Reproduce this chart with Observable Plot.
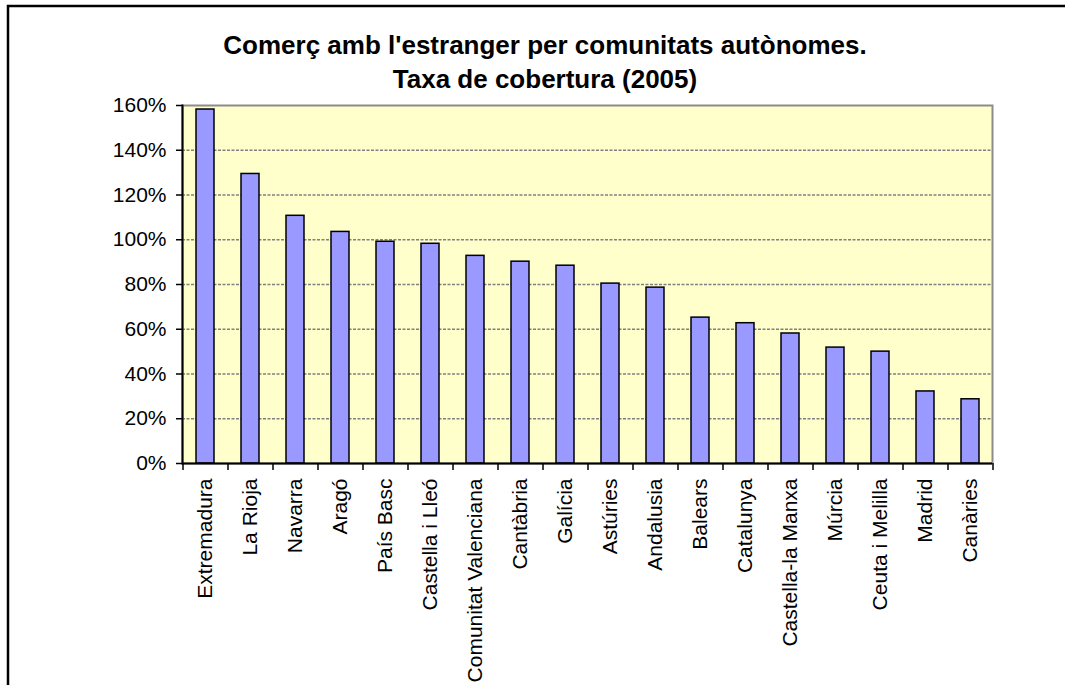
<!DOCTYPE html>
<html>
<head>
<meta charset="utf-8">
<script src="https://cdn.jsdelivr.net/npm/d3@7"></script>
<script src="https://cdn.jsdelivr.net/npm/@observablehq/plot@0.6"></script>
<style>
  html, body { margin: 0; padding: 0; background: white; }
  #chart { width: 1065px; height: 685px; overflow: hidden; }
</style>
</head>
<body>
<div id="chart"></div>
<script>
const titleLines = ["Comerç amb l'estranger per comunitats autònomes.", "Taxa de cobertura (2005)"];
const categories = ["Extremadura","La Rioja","Navarra","Aragó","País Basc","Castella i Lleó","Comunitat Valenciana","Cantàbria","Galícia","Astúries","Andalusia","Balears","Catalunya","Castella-la Manxa","Múrcia","Ceuta i Melilla","Madrid","Canàries"];
const values = [158.2, 129.4, 110.7, 103.5, 99.1, 98.2, 92.8, 90.2, 88.4, 80.4, 78.6, 65.2, 62.7, 58.1, 51.8, 50.0, 32.2, 28.7];
const yTicks = [0, 20, 40, 60, 80, 100, 120, 140, 160];
const gridTicks = [20, 40, 60, 80, 100, 120, 140];

const data = categories.map((c, i) => ({name: c, value: values[i]}));

const W = 1065, H = 685, mL = 182, mR = 73, mT = 105, mB = 222;
const halfStep = (W - mL - mR) / categories.length / 2;

const chart = Plot.plot({
  width: W, height: H,
  marginLeft: mL, marginRight: mR, marginTop: mT, marginBottom: mB,
  style: {fontFamily: "'Liberation Sans', Arial, sans-serif", fontSize: "21px", color: "black", background: "white", overflow: "visible"},
  x: {domain: categories, paddingInner: 0.6, paddingOuter: 0.3, label: null},
  y: {domain: [0, 160], label: null},
  marks: [
    Plot.frame({fill: "#FFFFCC", stroke: "#8c8c8c", strokeWidth: 2}),
    Plot.gridY(gridTicks, {stroke: "#808080", strokeOpacity: 1, strokeWidth: 1.5, strokeDasharray: "3,1.5"}),
    Plot.barY(data, {x: "name", y: "value", fill: "#9999FF", stroke: "black", strokeWidth: 1.5}),
    Plot.frame({anchor: "left", stroke: "black", strokeWidth: 2}),
    Plot.ruleY([0], {stroke: "black", strokeWidth: 2}),
    Plot.axisY({ticks: yTicks, tickFormat: d => d + "%", tickSize: 6, tickPadding: 10, strokeWidth: 1.5, fontSize: 21}),
    Plot.axisX({tickSize: 0, tickRotate: -90, tickPadding: 15, fontSize: 21}),
    Plot.axisX({tickSize: 7, tickFormat: () => "", dx: halfStep, strokeWidth: 1.5}),
    Plot.axisX({ticks: [categories[0]], tickSize: 7, tickFormat: () => "", dx: -halfStep, strokeWidth: 1.5})
  ]
});

const svg = d3.select(chart);
svg.append("path")
  .attr("d", `M8,${H} V6 H${W}`)
  .attr("fill", "none").attr("stroke", "black").attr("stroke-width", 2.5);
const title = svg.append("g")
  .attr("font-family", "'Liberation Sans', Arial, sans-serif")
  .attr("font-weight", "bold")
  .attr("font-size", 26)
  .attr("text-anchor", "middle")
  .attr("fill", "black");
titleLines.forEach((t, i) => {
  title.append("text").attr("x", 545).attr("y", 54 + i * 34).text(t);
});

document.getElementById("chart").appendChild(chart);
</script>
</body>
</html>
